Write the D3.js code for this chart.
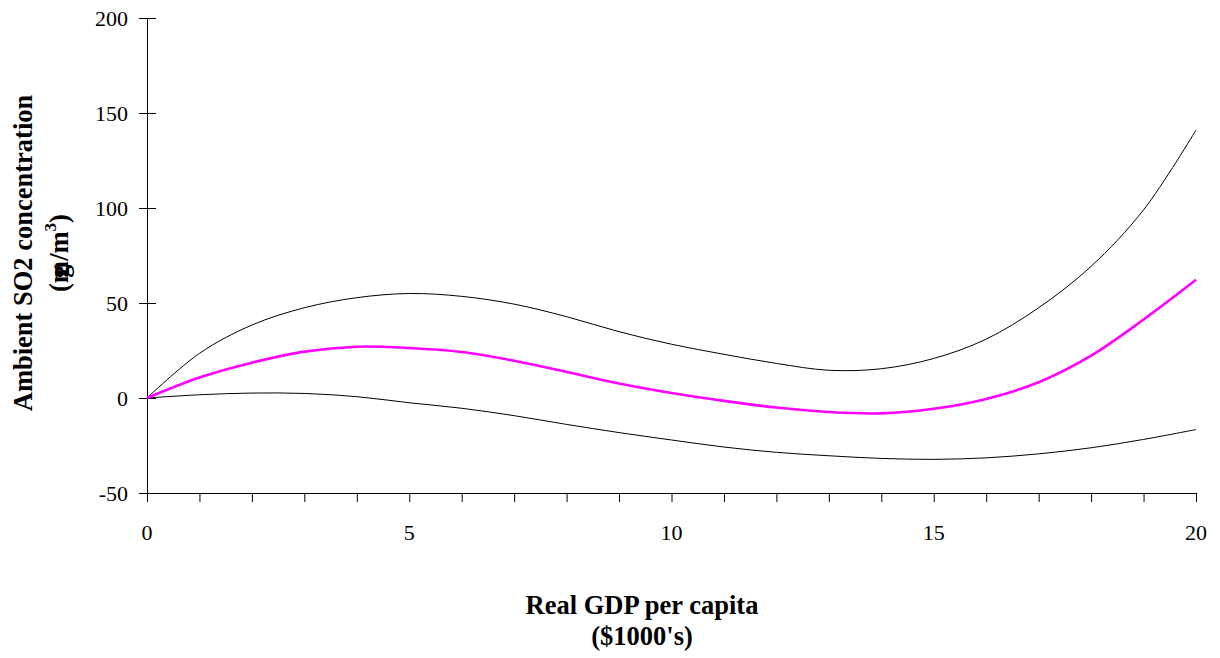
<!DOCTYPE html>
<html>
<head>
<meta charset="utf-8">
<script src="https://cdn.jsdelivr.net/npm/d3@7/dist/d3.min.js"></script>
<style>
  html, body { margin: 0; padding: 0; background: #fff; }
  svg { display: block; font-family: "Liberation Serif", "Times New Roman", serif; }
</style>
</head>
<body>
<svg id="chart" width="1220" height="658"></svg>
<script>
// Real GDP per capita ($1000's)
const gdp = [0, 1, 2, 3, 4, 5, 6, 7, 8, 9, 10, 11, 12, 13, 14, 15, 16, 17, 18, 19, 20];
// Estimated SO2 concentration and its upper / lower bands
const estimate = [0, 10.8, 18.6, 24.4, 27.0, 26.3, 24.2, 19.6, 13.7, 7.6, 2.6, -1.5, -5.0, -7.4, -8.1, -5.7, -0.5, 8.3, 22.3, 41.3, 62.2];
const upper    = [0, 23.5, 38.4, 47.5, 52.8, 55.0, 53.5, 49.4, 42.8, 34.9, 28.3, 23.0, 18.2, 14.6, 15.4, 20.8, 31.0, 47.5, 69.3, 99.0, 141];
const lower    = [0, 1.7, 2.6, 2.4, 0.7, -2.5, -5.4, -9.3, -13.9, -18.2, -22.1, -25.8, -28.6, -30.4, -31.8, -32.3, -31.5, -29.4, -26.2, -21.8, -16.6];

const xTicks = [0, 5, 10, 15, 20];
const xMinorTicks = d3.range(0, 21);
const yTicks = [-50, 0, 50, 100, 150, 200];

const svg = d3.select("#chart");
const x = d3.scaleLinear().domain([0, 20]).range([147, 1196]);
const y = d3.scaleLinear().domain([-50, 200]).range([493, 18]);

// y axis: ticks crossing the axis line
const yAxis = svg.append("g");
yAxis.append("line")
  .attr("x1", x(0) + 0.5).attr("x2", x(0) + 0.5)
  .attr("y1", y(200)).attr("y2", y(-50))
  .attr("stroke", "#000").attr("stroke-width", 1);
yAxis.selectAll("line.tick").data(yTicks).enter().append("line")
  .attr("class", "tick")
  .attr("x1", x(0) - 8).attr("x2", x(0) + 9)
  .attr("y1", d => y(d) + 0.5).attr("y2", d => y(d) + 0.5)
  .attr("stroke", "#000").attr("stroke-width", 1);
yAxis.selectAll("text").data(yTicks).enter().append("text")
  .attr("x", 128).attr("y", d => y(d))
  .attr("dy", "0.35em")
  .attr("text-anchor", "end")
  .attr("font-size", 22)
  .text(d => d);

// x axis: minor ticks at each unit, labels every 5
const xAxis = svg.append("g");
xAxis.append("line")
  .attr("x1", x(0)).attr("x2", x(20))
  .attr("y1", y(-50) + 0.5).attr("y2", y(-50) + 0.5)
  .attr("stroke", "#000").attr("stroke-width", 1);
xAxis.selectAll("line.tick").data(xMinorTicks).enter().append("line")
  .attr("class", "tick")
  .attr("x1", d => x(d) + 0.5).attr("x2", d => x(d) + 0.5)
  .attr("y1", y(-50)).attr("y2", y(-50) + 9)
  .attr("stroke", "#000").attr("stroke-width", 1);
xAxis.selectAll("text").data(xTicks).enter().append("text")
  .attr("x", d => x(d)).attr("y", 540)
  .attr("text-anchor", "middle")
  .attr("font-size", 22)
  .text(d => d);

// curves
const line = vals => d3.line()
  .x((d, i) => x(gdp[i]))
  .y(d => y(d))
  .curve(d3.curveCatmullRom.alpha(0.5))(vals);

svg.append("path").attr("d", line(upper))
  .attr("fill", "none").attr("stroke", "#000").attr("stroke-width", 1);
svg.append("path").attr("d", line(lower))
  .attr("fill", "none").attr("stroke", "#000").attr("stroke-width", 1);
svg.append("path").attr("d", line(estimate))
  .attr("fill", "none").attr("stroke", "#ff00ff").attr("stroke-width", 2.6);

// axis titles
const xTitle = svg.append("text")
  .attr("text-anchor", "middle")
  .attr("font-size", 26.5).attr("font-weight", "bold");
xTitle.append("tspan").attr("x", 642).attr("y", 614).text("Real GDP per capita");
xTitle.append("tspan").attr("x", 642).attr("y", 645).text("($1000's)");

const yTitle = svg.append("g").attr("transform", "translate(0,253) rotate(-90)")
  .attr("font-size", 26.5).attr("font-weight", "bold");
yTitle.append("text")
  .attr("x", 0).attr("y", 32)
  .attr("text-anchor", "middle")
  .text("Ambient SO2 concentration");
const unit = yTitle.append("text")
  .attr("x", 0).attr("y", 68)
  .attr("text-anchor", "middle");
unit.append("tspan").text("(");
unit.append("tspan").text("m");
unit.append("tspan").attr("dx", -17).text("g");
unit.append("tspan").attr("dx", 4).text("/m");
unit.append("tspan").attr("font-size", 17).attr("dy", -12).text("3");
unit.append("tspan").attr("dy", 12).text(")");
</script>
</body>
</html>
